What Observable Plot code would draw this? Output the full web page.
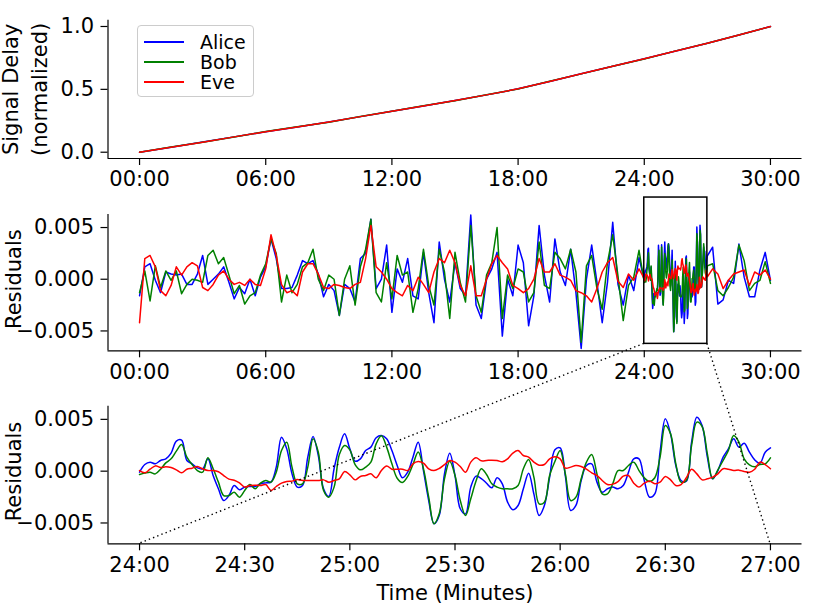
<!DOCTYPE html>
<html>
<head>
<meta charset="utf-8">
<script src="https://cdn.jsdelivr.net/npm/d3@7"></script>
<script src="https://cdn.jsdelivr.net/npm/@observablehq/plot@0.6"></script>
<style>
  html, body { margin: 0; padding: 0; background: #fff; overflow: hidden; }
  #fig { position: relative; width: 830px; height: 606px; font-family: "DejaVu Sans", sans-serif; }
  #fig > svg { position: absolute; left: 0; }
  .legend { position: absolute; box-sizing: border-box; border: 1px solid #cccccc; border-radius: 4px; background: rgba(255,255,255,0.8); }
  .legend .row { position: absolute; left: 0; height: 0; }
  .legend .sw { position: absolute; left: 6px; width: 40px; height: 1.5px; top: -0.75px; }
  .legend .lb { position: absolute; left: 62px; top: -11px; font-size: 19px; line-height: 22px; color: #000; white-space: nowrap; }
</style>
</head>
<body>
<div id="fig"></div>
<script>
// ---------------- data ----------------
const series = ["Alice", "Bob", "Eve"];
const colors = ["#0000ff", "#008000", "#ff0000"];

// tick values
const minuteTicks = [0, 6, 12, 18, 24, 30];
const zoomTicks = [24, 24.5, 25, 25.5, 26, 26.5, 27];
const delayTicks = [0, 0.5, 1.0];
const residualTicks = [-0.005, 0, 0.005];

// axis titles
const delayTitle = "Signal Delay\n(normalized)";
const residualTitle = "Residuals";
const timeTitle = "Time (Minutes)";

// sampling grids (minutes)
const delayStep = 1.5;          // top panel: t = 0, 1.5, ..., 30
const coarseStep = 0.25;        // middle panel outside the zoom window
const zoomStart = 24, zoomStep = 0.025;  // zoom window 24:00 - 27:00
const lateStart = 27.25;

// top panel: normalized signal delay
const aliceDelay = [0, 0.040, 0.081, 0.122, 0.163, 0.201, 0.240, 0.283, 0.326, 0.368, 0.411, 0.456, 0.504, 0.563, 0.624, 0.683, 0.743, 0.805, 0.867, 0.932, 1.000];
const bobDelay   = [0, 0.041, 0.080, 0.121, 0.164, 0.202, 0.239, 0.284, 0.325, 0.369, 0.410, 0.457, 0.503, 0.564, 0.623, 0.684, 0.742, 0.806, 0.866, 0.933, 0.999];
const eveDelay   = [0, 0.040, 0.080, 0.122, 0.163, 0.201, 0.240, 0.283, 0.326, 0.368, 0.411, 0.456, 0.504, 0.563, 0.624, 0.683, 0.743, 0.805, 0.867, 0.932, 1.000];

// residuals 00:00 - 23:45 (step 0.25 min)
const aliceEarly = [-1.6e-3, 1.2e-3, 1.5e-3, -0.1e-3, -1.3e-3, 0.7e-3, 0.5e-3, 0.4e-3, 0.5e-3, -0.5e-3,
  -0.5e-3, 0.5e-3, 2.3e-3, -0.5e-3, 0.0e-3, 0.5e-3, 1.2e-3, -0.3e-3, -1.9e-3, -0.8e-3,
  -1.4e-3, 0.0e-3, -1.6e-3, 0.2e-3, 1.2e-3, 3.9e-3, 2.0e-3, -0.9e-3, -0.9e-3, -0.8e-3,
  0.4e-3, 1.8e-3, 1.5e-3, 1.8e-3, 0.5e-3, -1.7e-3, -0.5e-3, -1.1e-3, -3.5e-3, -0.5e-3,
  -0.9e-3, -2.2e-3, 2.0e-3, 2.5e-3, 5.8e-3, -0.9e-3, 0.0e-3, 3.3e-3, -3.2e-3, 1.0e-3,
  -0.3e-3, 2.0e-3, -1.6e-3, -1.9e-3, 2.6e-3, -1.3e-3, -4.2e-3, 3.6e-3, 0.0e-3, -2.2e-3,
  1.6e-3, -0.9e-3, -1.6e-3, 6.2e-3, -2.5e-3, -3.8e-3, 0.0e-3, 1.0e-3, 2.6e-3, -5.5e-3,
  0.0e-3, -1.6e-3, 3.3e-3, 1.6e-3, -4.5e-3, -1.6e-3, 5.2e-3, 0.4e-3, -2.2e-3, 3.9e-3,
  0.7e-3, -0.6e-3, 2.9e-3, -1.3e-3, -6.7e-3, 0.0e-3, 3.3e-3, -0.3e-3, -4.2e-3, -0.3e-3,
  5.5e-3, -0.5e-3, -2.5e-3, 0.4e-3, -1.1e-3, 2.1e-3];
const bobEarly = [-1.3e-3, 0.8e-3, -2.1e-3, 1.3e-3, -0.8e-3, 0.8e-3, -0.1e-3, 0.8e-3, -1.4e-3, -0.5e-3,
  0.0e-3, -0.1e-3, -0.3e-3, 2.3e-3, 2.8e-3, 1.5e-3, 2.1e-3, 0.4e-3, -1.4e-3, -0.6e-3,
  -2.4e-3, -1.6e-3, -1.3e-3, 0.4e-3, 1.5e-3, 3.9e-3, 2.5e-3, -2.2e-3, 0.4e-3, -1.3e-3,
  -0.5e-3, 1.2e-3, 1.6e-3, 2.9e-3, 0.0e-3, -1.1e-3, 0.4e-3, 0.0e-3, -3.5e-3, 0.0e-3,
  1.3e-3, -2.5e-3, 1.2e-3, 2.9e-3, 5.8e-3, -1.3e-3, -2.2e-3, 1.6e-3, -1.9e-3, 2.3e-3,
  0.4e-3, 0.7e-3, -3.2e-3, -0.9e-3, 2.9e-3, -0.6e-3, -2.5e-3, 2.9e-3, 0.7e-3, -3.8e-3,
  2.6e-3, -0.3e-3, -2.2e-3, 5.2e-3, -1.6e-3, -3.2e-3, 0.4e-3, 1.6e-3, 5.0e-3, -3.8e-3,
  0.4e-3, -0.9e-3, 1.0e-3, 0.7e-3, -2.2e-3, -1.3e-3, 3.6e-3, -0.6e-3, -0.9e-3, 2.6e-3,
  2.0e-3, 1.0e-3, 2.9e-3, 0.7e-3, -6.1e-3, 1.3e-3, 2.3e-3, -0.9e-3, -2.9e-3, 1.6e-3,
  4.3e-3, 0.3e-3, -4.0e-3, -0.6e-3, 0.2e-3, 2.8e-3];
const eveEarly = [-4.2e-3, 2.0e-3, 2.3e-3, 1.2e-3, -1.1e-3, -1.6e-3, -0.6e-3, 1.2e-3, 0.4e-3, 1.2e-3,
  1.6e-3, 1.3e-3, -0.8e-3, -1.1e-3, -0.5e-3, 0.4e-3, 0.8e-3, 0.0e-3, -0.5e-3, -0.3e-3,
  -0.6e-3, 0.0e-3, -0.5e-3, -0.6e-3, 1.0e-3, 4.3e-3, 2.3e-3, -0.5e-3, -1.3e-3, -1.1e-3,
  -1.6e-3, 0.7e-3, 1.5e-3, 1.5e-3, 0.5e-3, -0.8e-3, -0.9e-3, -0.5e-3, -0.6e-3, -0.8e-3,
  -0.9e-3, -0.5e-3, -0.3e-3, 2.0e-3, 5.2e-3, 1.2e-3, 0.7e-3, 0.0e-3, -0.9e-3, -1.3e-3,
  -1.6e-3, -0.6e-3, -1.1e-3, 0.2e-3, -0.5e-3, -1.3e-3, 0.7e-3, 2.0e-3, 1.6e-3, 2.8e-3,
  1.6e-3, -0.6e-3, -1.6e-3, 1.3e-3, -1.6e-3, -1.6e-3, 0.0e-3, 1.5e-3, 2.3e-3, 1.6e-3,
  1.0e-3, -0.6e-3, -0.9e-3, -1.3e-3, -0.9e-3, 0.0e-3, 2.0e-3, 0.7e-3, 0.7e-3, 1.5e-3,
  0.4e-3, 0.2e-3, -0.1e-3, -1.1e-3, -1.3e-3, -1.6e-3, -2.2e-3, -0.9e-3, 0.7e-3, 1.6e-3,
  2.1e-3, -0.2e-3, -0.8e-3, 0.5e-3, -0.1e-3, 1.0e-3];

// residuals 24:00 - 27:00 (step 0.025 min), shown in both lower panels
const aliceZoom = [-0.10e-3, 0.64e-3, 0.87e-3, 0.71e-3, 1.03e-3, 1.19e-3, 1.74e-3, 2.90e-3, 3.00e-3, 1.03e-3,
  0.71e-3, 0.32e-3, 0.23e-3, 1.19e-3, -0.42e-3, -1.70e-3, -2.83e-3, -2.35e-3, -1.38e-3, -1.80e-3,
  -1.54e-3, -1.48e-3, -1.48e-3, -1.22e-3, -1.13e-3, -1.06e-3, 0.39e-3, 3.28e-3, 2.15e-3, -0.26e-3,
  -1.54e-3, -1.38e-3, 1.35e-3, 3.34e-3, 1.51e-3, -1.70e-3, -2.44e-3, 0.23e-3, 2.30e-3, 3.60e-3,
  2.15e-3, 0.96e-3, 1.19e-3, 1.99e-3, 2.32e-3, 3.22e-3, 3.44e-3, 3.12e-3, 1.99e-3, 0.55e-3,
  -0.64e-3, -0.10e-3, 1.35e-3, 2.80e-3, 0.06e-3, -2.83e-3, -5.08e-3, -4.28e-3, -0.26e-3, 1.74e-3,
  -0.42e-3, -3.63e-3, -4.12e-3, -1.54e-3, -0.48e-3, -0.71e-3, -1.16e-3, -1.61e-3, -0.64e-3, -1.22e-3,
  -2.99e-3, -3.73e-3, -3.31e-3, -1.70e-3, -0.19e-3, -2.19e-3, -4.28e-3, -3.31e-3, -0.58e-3, 2.06e-3,
  2.25e-3, -0.50e-3, -3.79e-3, -3.31e-3, -0.90e-3, 0.55e-3, 0.71e-3, -1.06e-3, -2.03e-3, -1.70e-3,
  -1.54e-3, -1.70e-3, -1.38e-3, -0.10e-3, 1.19e-3, 1.19e-3, -0.90e-3, -2.51e-3, -2.19e-3, 1.83e-3,
  5.05e-3, 3.60e-3, 0.55e-3, -0.90e-3, -0.96e-3, 2.80e-3, 5.21e-3, 4.41e-3, 1.35e-3, -0.74e-3,
  0.06e-3, 1.35e-3, 2.15e-3, 3.12e-3, 2.32e-3, 2.70e-3, 1.83e-3, 1.09e-3, 0.77e-3, 1.83e-3,
  2.25e-3];
const bobZoom = [-0.32e-3, -0.19e-3, -0.10e-3, -0.26e-3, 0.19e-3, 0.80e-3, 1.19e-3, 1.93e-3, 2.57e-3, 1.35e-3,
  0.64e-3, 0.06e-3, -0.10e-3, 1.29e-3, 0.23e-3, -1.06e-3, -2.35e-3, -2.35e-3, -2.03e-3, -2.51e-3,
  -1.86e-3, -1.29e-3, -1.70e-3, -1.16e-3, -0.90e-3, -1.06e-3, -0.10e-3, 1.99e-3, 2.80e-3, 0.39e-3,
  -1.22e-3, -1.22e-3, 0.39e-3, 3.12e-3, 1.83e-3, -1.86e-3, -2.51e-3, -1.54e-3, 1.60e-3, 2.48e-3,
  2.06e-3, 0.64e-3, 0.13e-3, 0.39e-3, 0.87e-3, 2.64e-3, 3.41e-3, 2.32e-3, 0.71e-3, -0.68e-3,
  -1.09e-3, -0.51e-3, 0.64e-3, 1.86e-3, 0.23e-3, -2.51e-3, -5.08e-3, -4.12e-3, -0.74e-3, 0.96e-3,
  -0.42e-3, -2.83e-3, -4.28e-3, -2.67e-3, -0.96e-3, 0.23e-3, -0.32e-3, -1.22e-3, -1.54e-3, -1.70e-3,
  -1.70e-3, -1.70e-3, -1.38e-3, 0.23e-3, 1.13e-3, -0.58e-3, -3.15e-3, -2.99e-3, -0.42e-3, 0.93e-3,
  1.99e-3, -0.30e-3, -2.83e-3, -2.51e-3, -0.74e-3, 0.87e-3, 1.61e-3, -0.26e-3, -2.19e-3, -2.19e-3,
  -1.22e-3, 0.06e-3, 0.06e-3, 0.55e-3, 0.87e-3, 0.06e-3, -0.64e-3, -1.00e-3, -0.64e-3, 1.35e-3,
  4.41e-3, 3.60e-3, 0.71e-3, -1.06e-3, -0.90e-3, 2.48e-3, 4.73e-3, 4.31e-3, 1.67e-3, -0.74e-3,
  0.13e-3, 1.03e-3, 1.99e-3, 3.44e-3, 2.80e-3, 1.19e-3, 0.61e-3, 0.42e-3, 0.64e-3, 0.71e-3,
  1.29e-3];
const eveZoom = [0.06e-3, -0.16e-3, 0.19e-3, 0.51e-3, 0.35e-3, 0.42e-3, 0.35e-3, 0.13e-3, -0.16e-3, 0.19e-3,
  0.29e-3, 0.45e-3, 0.23e-3, 0.06e-3, 0.06e-3, -0.06e-3, -0.42e-3, -0.77e-3, -0.87e-3, -1.13e-3,
  -1.54e-3, -1.38e-3, -1.35e-3, -1.38e-3, -1.29e-3, -1.86e-3, -1.48e-3, -1.16e-3, -1.00e-3, -0.96e-3,
  -0.80e-3, -0.90e-3, -0.90e-3, -0.90e-3, -0.90e-3, -0.84e-3, -1.06e-3, -0.90e-3, -0.74e-3, -0.03e-3,
  -0.35e-3, -0.84e-3, -0.51e-3, -0.42e-3, -0.26e-3, -0.64e-3, 0.06e-3, 0.51e-3, 0.19e-3, 0.19e-3,
  0.19e-3, 0.06e-3, 0.71e-3, 0.93e-3, 0.77e-3, 0.23e-3, 0.06e-3, 0.26e-3, 0.64e-3, 1.03e-3,
  0.87e-3, 0.45e-3, -0.10e-3, 0.87e-3, 1.29e-3, 1.00e-3, 1.03e-3, 1.06e-3, 1.03e-3, 0.90e-3,
  1.19e-3, 1.74e-3, 1.99e-3, 1.51e-3, 1.35e-3, 0.87e-3, 0.58e-3, 0.64e-3, 1.19e-3, 1.38e-3,
  1.19e-3, 0.29e-3, 0.39e-3, 0.55e-3, 0.45e-3, 0.19e-3, -0.16e-3, -0.42e-3, -0.90e-3, -1.29e-3,
  -1.25e-3, -1.00e-3, -0.48e-3, -0.42e-3, -1.16e-3, -1.54e-3, -1.16e-3, -0.96e-3, -1.22e-3, -1.06e-3,
  -0.51e-3, -0.84e-3, -1.38e-3, -1.29e-3, -0.64e-3, 0.19e-3, -0.26e-3, -0.84e-3, -0.74e-3, -0.58e-3,
  -0.26e-3, 0.23e-3, 0.19e-3, 0.06e-3, 0.10e-3, -0.03e-3, -0.10e-3, 0.19e-3, 0.87e-3, 0.64e-3,
  0.23e-3];

// residuals 27:15 - 30:00 (step 0.25 min)
const aliceLate = [3.1e-3, -2.4e-3, -2.0e-3, -0.1e-3, -0.4e-3, 3.4e-3, 0.2e-3, -1.7e-3, -1.7e-3, 0.9e-3, 2.6e-3, -0.1e-3];
const bobLate   = [1.5e-3, -1.1e-3, -1.6e-3, -0.8e-3, 0.2e-3, 3.3e-3, 1.8e-3, -1.1e-3, -0.4e-3, -0.1e-3, 1.7e-3, -0.4e-3];
const eveLate   = [1.0e-3, 0.5e-3, -0.9e-3, -0.1e-3, 0.5e-3, 0.7e-3, 0.9e-3, -0.6e-3, 0.7e-3, 0.4e-3, 0.9e-3, 0.0e-3];

// zoom indicator (inset window drawn on the middle panel)
const zoomWindow = [{x1: 24, x2: 27, y1: -0.00625, y2: 0.0079}];

// axis extents
const fullDomain = [-1.5, 31.5];
const zoomDomain = [23.85, 27.15];
const delayDomain = [-0.05, 1.05];
const midResDomain = [-0.00692, 0.00626];
const zoomResDomain = [-0.00701, 0.00627];

// ---------------- tables ----------------
const rows = (values, start, step, s) => values.map((v, i) => ({t: start + i * step, v, s}));
const delayVals = [aliceDelay, bobDelay, eveDelay];
const earlyVals = [aliceEarly, bobEarly, eveEarly];
const zoomVals = [aliceZoom, bobZoom, eveZoom];
const lateVals = [aliceLate, bobLate, eveLate];

const topData = series.flatMap((s, i) => rows(delayVals[i], 0, delayStep, s));
const midData = series.flatMap((s, i) => [
  ...rows(earlyVals[i], 0, coarseStep, s),
  ...rows(zoomVals[i], zoomStart, zoomStep, s),
  ...rows(lateVals[i], lateStart, coarseStep, s)
]);
const botData = series.flatMap((s, i) => rows(zoomVals[i], zoomStart, zoomStep, s));

// ---------------- drawing ----------------
const W = 830, ML = 107.5, MR = 28.5;
const mmss = (m) => {
  const mm = Math.floor(m + 1e-9);
  const ss = Math.round((m - mm) * 60);
  return String(mm).padStart(2, "0") + ":" + String(ss).padStart(2, "0");
};
const fig = document.getElementById("fig");

function panel({top, height, mt, mb, xDomain, xTicks, yDomain, yTicks, yFormat, yLabel, labelDx, labelDy = 0, xLabel, data, curve = "linear", extra = []}) {
  const p = Plot.plot({
    width: W, height,
    marginLeft: ML, marginRight: MR, marginTop: mt, marginBottom: mb,
    style: {fontFamily: "'DejaVu Sans', sans-serif", fontSize: "21px", background: "none", overflow: "visible", color: "#000"},
    x: {domain: xDomain},
    y: {domain: yDomain},
    color: {domain: series, range: colors},
    marks: [
      Plot.line(data, {x: "t", y: "v", z: "s", stroke: "s", strokeWidth: 1.5, curve}),
      ...extra,
      Plot.ruleX([xDomain[0]], {stroke: "#000", strokeWidth: 1.2}),
      Plot.ruleY([yDomain[0]], {stroke: "#000", strokeWidth: 1.2}),
      Plot.axisX({ticks: xTicks, tickFormat: mmss, tickSize: 7, tickPadding: 6, strokeWidth: 1.2,
                  label: xLabel, labelAnchor: "center", labelOffset: 56, labelArrow: false}),
      Plot.axisY({ticks: yTicks, tickFormat: yFormat, tickSize: 7, tickPadding: 7, strokeWidth: 1.2, label: null}),
      Plot.text([yLabel], {text: d => d, frameAnchor: "left", rotate: -90, textAnchor: "middle",
                           lineAnchor: "middle", lineHeight: 1.4, dx: labelDx, dy: labelDy, fill: "#000"})
    ]
  });
  p.style.top = top + "px";
  fig.appendChild(p);
  return p;
}

const topTop = 0, midTop = 195, botTop = 390;

panel({top: topTop, height: 195, mt: 19.7, mb: 37, xDomain: fullDomain, xTicks: minuteTicks,
  yDomain: delayDomain, yTicks: delayTicks, yFormat: ".1f", yLabel: delayTitle, labelDx: -85, xLabel: null, data: topData});

const midPlot = panel({top: midTop, height: 195, mt: 19, mb: 39.7, xDomain: fullDomain, xTicks: minuteTicks,
  yDomain: midResDomain, yTicks: residualTicks, yFormat: ".3f", yLabel: residualTitle, labelDx: -96.5, labelDy: -3.5, xLabel: null, data: midData,
  extra: [Plot.rect(zoomWindow, {x1: "x1", x2: "x2", y1: "y1", y2: "y2", fill: "none", stroke: "#000", strokeWidth: 1.5})]});

const botPlot = panel({top: botTop, height: 216, mt: 15.7, mb: 62.7, xDomain: zoomDomain, xTicks: zoomTicks,
  yDomain: zoomResDomain, yTicks: residualTicks, yFormat: ".3f", yLabel: residualTitle, labelDx: -96.5, labelDy: -3.5, xLabel: timeTitle,
  data: botData, curve: "catmull-rom"});

// connector lines from the zoom window to the zoomed panel
const mx = midPlot.scale("x"), my = midPlot.scale("y");
const bx = botPlot.scale("x"), by = botPlot.scale("y");
const ov = d3.select(fig).append("svg")
  .attr("width", W).attr("height", 606)
  .style("top", "0px").style("pointer-events", "none");
for (const key of ["x1", "x2"]) {
  const w = zoomWindow[0];
  ov.append("line")
    .attr("x1", mx.apply(w[key])).attr("y1", midTop + my.apply(w.y1))
    .attr("x2", bx.apply(w[key])).attr("y2", botTop + by.apply(zoomResDomain[0]))
    .attr("stroke", "#000").attr("stroke-width", 1.4)
    .attr("stroke-dasharray", "1.4,3.1");
}

// legend
const legend = document.createElement("div");
legend.className = "legend";
Object.assign(legend.style, {left: "137px", top: "25px", width: "117px", height: "72px"});
series.forEach((s, i) => {
  const row = document.createElement("div");
  row.className = "row";
  row.style.top = (16 + i * 20) + "px";
  const sw = document.createElement("span");
  sw.className = "sw";
  sw.style.background = colors[i];
  const lb = document.createElement("span");
  lb.className = "lb";
  lb.textContent = s;
  row.appendChild(sw); row.appendChild(lb);
  legend.appendChild(row);
});
fig.appendChild(legend);
</script>
</body>
</html>
